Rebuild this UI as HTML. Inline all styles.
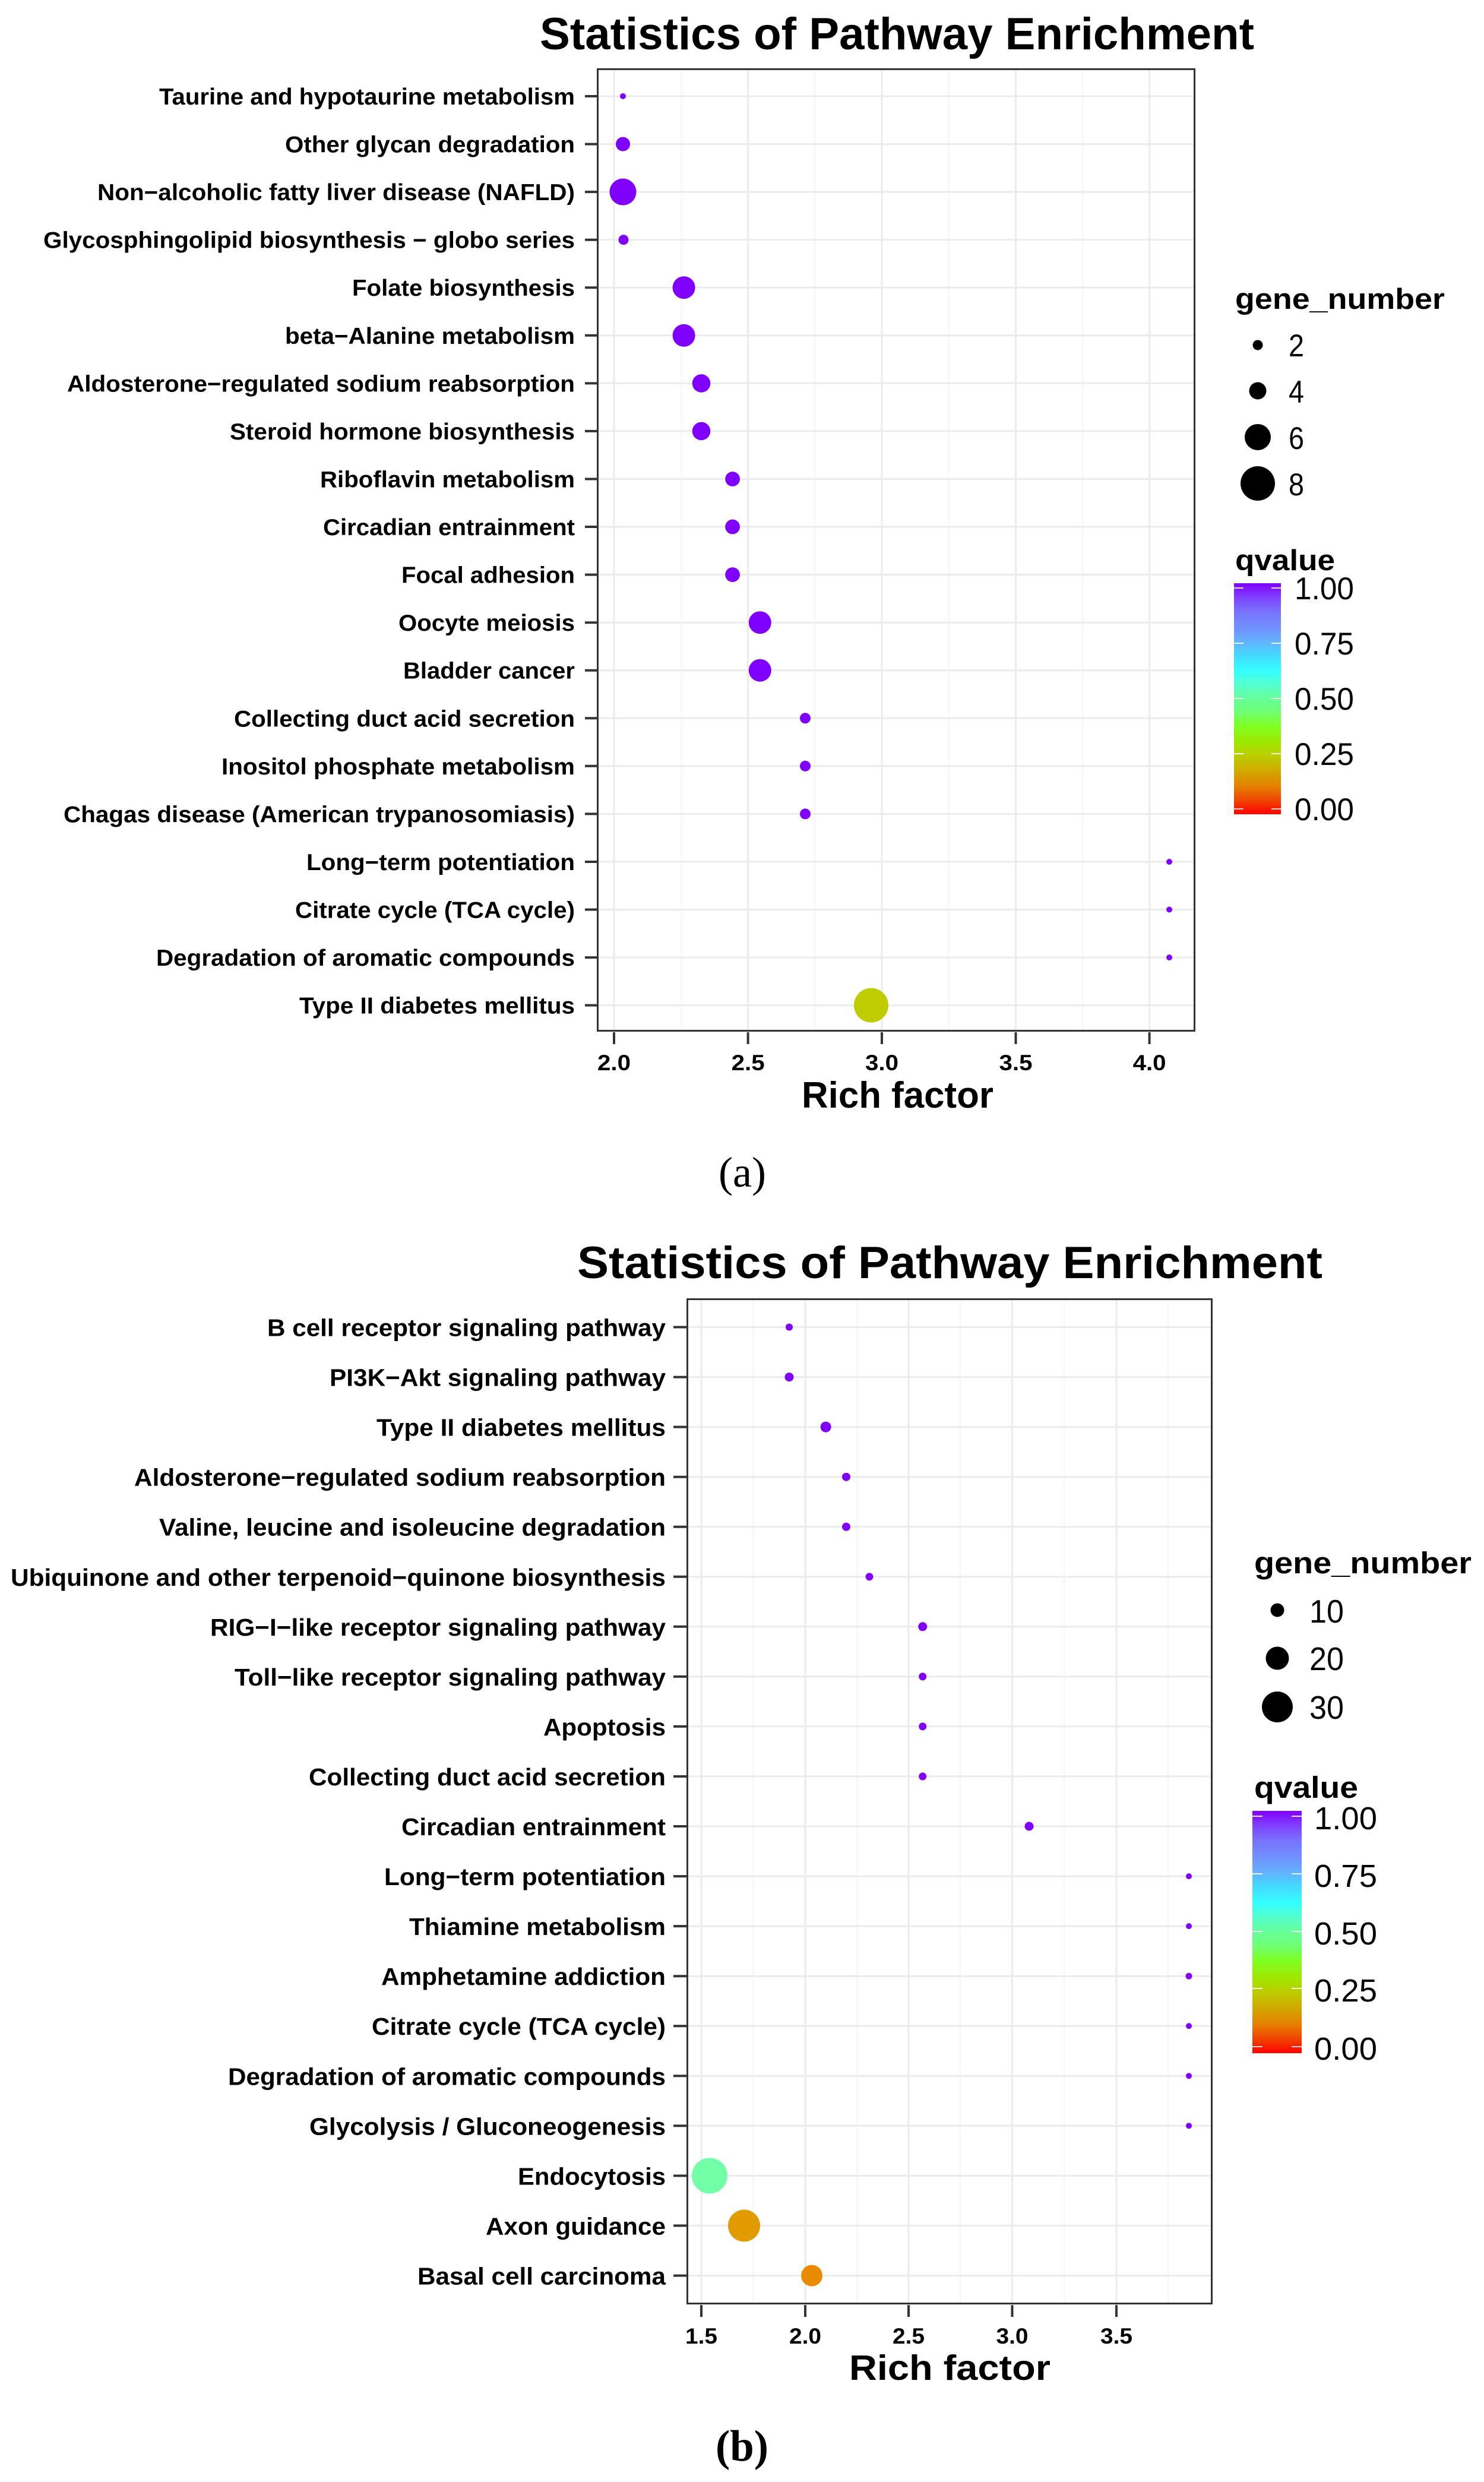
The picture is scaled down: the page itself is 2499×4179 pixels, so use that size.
<!DOCTYPE html>
<html><head><meta charset="utf-8"><style>
html,body{margin:0;padding:0;background:#fff;}
svg{display:block;}
text{font-family:"Liberation Sans",Arial,sans-serif;fill:#000;}
.lab{font-weight:bold;font-size:39px;text-anchor:end;}
.labb{font-weight:bold;font-size:41px;text-anchor:end;}
.tk{font-weight:bold;font-size:37px;text-anchor:middle;}
.ttl{font-weight:bold;font-size:76px;}
.ax{font-weight:bold;font-size:62px;}
.lt{font-weight:bold;font-size:49px;}
.ln{font-size:53px;}
</style></head><body>
<svg width="2499" height="4179" viewBox="0 0 2499 4179" xmlns="http://www.w3.org/2000/svg">
<defs>
<linearGradient id="cb" x1="0" y1="1" x2="0" y2="0">
<stop offset="0" stop-color="#ff0000"/>
<stop offset="0.06" stop-color="#f04400"/>
<stop offset="0.12" stop-color="#e58000"/>
<stop offset="0.19" stop-color="#d0aa00"/>
<stop offset="0.25" stop-color="#bccc00"/>
<stop offset="0.31" stop-color="#a0e600"/>
<stop offset="0.38" stop-color="#80ff20"/>
<stop offset="0.44" stop-color="#70ff70"/>
<stop offset="0.50" stop-color="#66ff99"/>
<stop offset="0.56" stop-color="#55ffcc"/>
<stop offset="0.62" stop-color="#33ffff"/>
<stop offset="0.69" stop-color="#44d8ff"/>
<stop offset="0.75" stop-color="#66b0ff"/>
<stop offset="0.81" stop-color="#7090ff"/>
<stop offset="0.88" stop-color="#7a70ff"/>
<stop offset="0.94" stop-color="#7f40ff"/>
<stop offset="1" stop-color="#8000ff"/>
</linearGradient>
</defs>
<rect width="2499" height="4179" fill="#fff"/>

<!-- ================= PANEL A ================= -->
<text class="ttl" x="909" y="83" textLength="1203" lengthAdjust="spacingAndGlyphs">Statistics of Pathway Enrichment</text>

<!-- grid a -->
<g stroke="#f5f5f5" stroke-width="2">
<line x1="1147.7" y1="118" x2="1147.7" y2="1735"/>
<line x1="1372.3" y1="118" x2="1372.3" y2="1735"/>
<line x1="1597.5" y1="118" x2="1597.5" y2="1735"/>
<line x1="1823" y1="118" x2="1823" y2="1735"/>
</g>
<g stroke="#ebebeb" stroke-width="3">
<line x1="1034" y1="118" x2="1034" y2="1735"/>
<line x1="1259.6" y1="118" x2="1259.6" y2="1735"/>
<line x1="1485" y1="118" x2="1485" y2="1735"/>
<line x1="1710.5" y1="118" x2="1710.5" y2="1735"/>
<line x1="1935.6" y1="118" x2="1935.6" y2="1735"/>
<line x1="1008" y1="162" x2="2011" y2="162"/>
<line x1="1008" y1="242.6" x2="2011" y2="242.6"/>
<line x1="1008" y1="323.1" x2="2011" y2="323.1"/>
<line x1="1008" y1="403.7" x2="2011" y2="403.7"/>
<line x1="1008" y1="484.2" x2="2011" y2="484.2"/>
<line x1="1008" y1="564.8" x2="2011" y2="564.8"/>
<line x1="1008" y1="645.4" x2="2011" y2="645.4"/>
<line x1="1008" y1="725.9" x2="2011" y2="725.9"/>
<line x1="1008" y1="806.5" x2="2011" y2="806.5"/>
<line x1="1008" y1="887" x2="2011" y2="887"/>
<line x1="1008" y1="967.6" x2="2011" y2="967.6"/>
<line x1="1008" y1="1048.2" x2="2011" y2="1048.2"/>
<line x1="1008" y1="1128.7" x2="2011" y2="1128.7"/>
<line x1="1008" y1="1209.3" x2="2011" y2="1209.3"/>
<line x1="1008" y1="1289.8" x2="2011" y2="1289.8"/>
<line x1="1008" y1="1370.4" x2="2011" y2="1370.4"/>
<line x1="1008" y1="1451" x2="2011" y2="1451"/>
<line x1="1008" y1="1531.5" x2="2011" y2="1531.5"/>
<line x1="1008" y1="1612.1" x2="2011" y2="1612.1"/>
<line x1="1008" y1="1692.6" x2="2011" y2="1692.6"/>
</g>

<!-- points a -->
<g fill="#7f00ff">
<circle cx="1049" cy="162" r="5"/>
<circle cx="1049" cy="242.6" r="12"/>
<circle cx="1049" cy="323.1" r="22.5"/>
<circle cx="1050" cy="403.7" r="8.5"/>
<circle cx="1151.6" cy="484.2" r="19"/>
<circle cx="1151.6" cy="564.8" r="19"/>
<circle cx="1181" cy="645.4" r="15.3"/>
<circle cx="1181" cy="725.9" r="15.3"/>
<circle cx="1233.6" cy="806.5" r="12.4"/>
<circle cx="1233.6" cy="887" r="12.4"/>
<circle cx="1233.6" cy="967.6" r="12.4"/>
<circle cx="1279.8" cy="1048.2" r="19"/>
<circle cx="1279.8" cy="1128.7" r="19"/>
<circle cx="1356" cy="1209.3" r="9"/>
<circle cx="1356" cy="1289.8" r="9"/>
<circle cx="1356" cy="1370.4" r="9"/>
<circle cx="1969" cy="1451" r="5"/>
<circle cx="1969" cy="1531.5" r="5"/>
<circle cx="1969" cy="1612.1" r="5"/>
</g>
<circle cx="1467" cy="1692.6" r="29" fill="#bfcc00"/>

<!-- box a -->
<rect x="1006.5" y="116.5" width="1005" height="1619" fill="none" stroke="#333" stroke-width="3"/>

<!-- y ticks a -->
<g stroke="#333" stroke-width="4">
<line x1="985" y1="162" x2="1005" y2="162"/>
<line x1="985" y1="242.6" x2="1005" y2="242.6"/>
<line x1="985" y1="323.1" x2="1005" y2="323.1"/>
<line x1="985" y1="403.7" x2="1005" y2="403.7"/>
<line x1="985" y1="484.2" x2="1005" y2="484.2"/>
<line x1="985" y1="564.8" x2="1005" y2="564.8"/>
<line x1="985" y1="645.4" x2="1005" y2="645.4"/>
<line x1="985" y1="725.9" x2="1005" y2="725.9"/>
<line x1="985" y1="806.5" x2="1005" y2="806.5"/>
<line x1="985" y1="887" x2="1005" y2="887"/>
<line x1="985" y1="967.6" x2="1005" y2="967.6"/>
<line x1="985" y1="1048.2" x2="1005" y2="1048.2"/>
<line x1="985" y1="1128.7" x2="1005" y2="1128.7"/>
<line x1="985" y1="1209.3" x2="1005" y2="1209.3"/>
<line x1="985" y1="1289.8" x2="1005" y2="1289.8"/>
<line x1="985" y1="1370.4" x2="1005" y2="1370.4"/>
<line x1="985" y1="1451" x2="1005" y2="1451"/>
<line x1="985" y1="1531.5" x2="1005" y2="1531.5"/>
<line x1="985" y1="1612.1" x2="1005" y2="1612.1"/>
<line x1="985" y1="1692.6" x2="1005" y2="1692.6"/>
<line x1="1034" y1="1738" x2="1034" y2="1758"/>
<line x1="1259.6" y1="1738" x2="1259.6" y2="1758"/>
<line x1="1485" y1="1738" x2="1485" y2="1758"/>
<line x1="1710.5" y1="1738" x2="1710.5" y2="1758"/>
<line x1="1935.6" y1="1738" x2="1935.6" y2="1758"/>
</g>

<!-- y labels a -->
<text class="lab" x="968" y="176" textLength="700" lengthAdjust="spacingAndGlyphs">Taurine and hypotaurine metabolism</text>
<text class="lab" x="968" y="256.6" textLength="488" lengthAdjust="spacingAndGlyphs">Other glycan degradation</text>
<text class="lab" x="968" y="337.1" textLength="804" lengthAdjust="spacingAndGlyphs">Non−alcoholic fatty liver disease (NAFLD)</text>
<text class="lab" x="968" y="417.7" textLength="895" lengthAdjust="spacingAndGlyphs">Glycosphingolipid biosynthesis − globo series</text>
<text class="lab" x="968" y="498.2" textLength="375" lengthAdjust="spacingAndGlyphs">Folate biosynthesis</text>
<text class="lab" x="968" y="578.8" textLength="488" lengthAdjust="spacingAndGlyphs">beta−Alanine metabolism</text>
<text class="lab" x="968" y="659.4" textLength="855" lengthAdjust="spacingAndGlyphs">Aldosterone−regulated sodium reabsorption</text>
<text class="lab" x="968" y="739.9" textLength="581" lengthAdjust="spacingAndGlyphs">Steroid hormone biosynthesis</text>
<text class="lab" x="968" y="820.5" textLength="429" lengthAdjust="spacingAndGlyphs">Riboflavin metabolism</text>
<text class="lab" x="968" y="901" textLength="424" lengthAdjust="spacingAndGlyphs">Circadian entrainment</text>
<text class="lab" x="968" y="981.6" textLength="292" lengthAdjust="spacingAndGlyphs">Focal adhesion</text>
<text class="lab" x="968" y="1062.2" textLength="297" lengthAdjust="spacingAndGlyphs">Oocyte meiosis</text>
<text class="lab" x="968" y="1142.7" textLength="289" lengthAdjust="spacingAndGlyphs">Bladder cancer</text>
<text class="lab" x="968" y="1223.3" textLength="574" lengthAdjust="spacingAndGlyphs">Collecting duct acid secretion</text>
<text class="lab" x="968" y="1303.8" textLength="595" lengthAdjust="spacingAndGlyphs">Inositol phosphate metabolism</text>
<text class="lab" x="968" y="1384.4" textLength="861" lengthAdjust="spacingAndGlyphs">Chagas disease (American trypanosomiasis)</text>
<text class="lab" x="968" y="1465" textLength="452" lengthAdjust="spacingAndGlyphs">Long−term potentiation</text>
<text class="lab" x="968" y="1545.5" textLength="471" lengthAdjust="spacingAndGlyphs">Citrate cycle (TCA cycle)</text>
<text class="lab" x="968" y="1626.1" textLength="705" lengthAdjust="spacingAndGlyphs">Degradation of aromatic compounds</text>
<text class="lab" x="968" y="1706.6" textLength="464" lengthAdjust="spacingAndGlyphs">Type II diabetes mellitus</text>

<!-- x tick labels a -->
<text class="tk" x="1034" y="1802" textLength="56" lengthAdjust="spacingAndGlyphs">2.0</text>
<text class="tk" x="1259.6" y="1802" textLength="56" lengthAdjust="spacingAndGlyphs">2.5</text>
<text class="tk" x="1485" y="1802" textLength="56" lengthAdjust="spacingAndGlyphs">3.0</text>
<text class="tk" x="1710.5" y="1802" textLength="56" lengthAdjust="spacingAndGlyphs">3.5</text>
<text class="tk" x="1935.6" y="1802" textLength="56" lengthAdjust="spacingAndGlyphs">4.0</text>
<text class="ax" x="1350" y="1865" textLength="323" lengthAdjust="spacingAndGlyphs">Rich factor</text>

<!-- legend a -->
<text class="lt" x="2080" y="520" textLength="353" lengthAdjust="spacingAndGlyphs">gene_number</text>
<g fill="#000">
<circle cx="2118" cy="581" r="8.5"/>
<circle cx="2118" cy="658" r="14.5"/>
<circle cx="2118" cy="736" r="22"/>
<circle cx="2118" cy="814" r="29"/>
</g>
<text class="ln" x="2170" y="600" textLength="26" lengthAdjust="spacingAndGlyphs">2</text>
<text class="ln" x="2170" y="678" textLength="26" lengthAdjust="spacingAndGlyphs">4</text>
<text class="ln" x="2170" y="756" textLength="26" lengthAdjust="spacingAndGlyphs">6</text>
<text class="ln" x="2170" y="834" textLength="26" lengthAdjust="spacingAndGlyphs">8</text>
<text class="lt" x="2080" y="960" textLength="168" lengthAdjust="spacingAndGlyphs">qvalue</text>
<rect x="2078" y="982" width="79" height="389" fill="url(#cb)"/>
<g stroke="#fff" stroke-width="2" opacity="0.85">
<line x1="2078" y1="990" x2="2094" y2="990"/><line x1="2141" y1="990" x2="2157" y2="990"/>
<line x1="2078" y1="1083" x2="2094" y2="1083"/><line x1="2141" y1="1083" x2="2157" y2="1083"/>
<line x1="2078" y1="1176" x2="2094" y2="1176"/><line x1="2141" y1="1176" x2="2157" y2="1176"/>
<line x1="2078" y1="1269" x2="2094" y2="1269"/><line x1="2141" y1="1269" x2="2157" y2="1269"/>
<line x1="2078" y1="1362" x2="2094" y2="1362"/><line x1="2141" y1="1362" x2="2157" y2="1362"/>
</g>
<text class="ln" x="2180" y="1009" textLength="100" lengthAdjust="spacingAndGlyphs">1.00</text>
<text class="ln" x="2180" y="1102" textLength="100" lengthAdjust="spacingAndGlyphs">0.75</text>
<text class="ln" x="2180" y="1195" textLength="100" lengthAdjust="spacingAndGlyphs">0.50</text>
<text class="ln" x="2180" y="1288" textLength="100" lengthAdjust="spacingAndGlyphs">0.25</text>
<text class="ln" x="2180" y="1381" textLength="100" lengthAdjust="spacingAndGlyphs">0.00</text>

<text x="1210" y="1998" style="font-family:'Liberation Serif',serif;font-size:72px;" textLength="80" lengthAdjust="spacingAndGlyphs">(a)</text>

<!-- ================= PANEL B ================= -->
<text class="ttl" x="972" y="2152" textLength="1255" lengthAdjust="spacingAndGlyphs">Statistics of Pathway Enrichment</text>

<g stroke="#f5f5f5" stroke-width="2">
<line x1="1268" y1="2189" x2="1268" y2="3878"/>
<line x1="1443" y1="2189" x2="1443" y2="3878"/>
<line x1="1617" y1="2189" x2="1617" y2="3878"/>
<line x1="1792" y1="2189" x2="1792" y2="3878"/>
<line x1="1967" y1="2189" x2="1967" y2="3878"/>
</g>
<g stroke="#ebebeb" stroke-width="3">
<line x1="1181" y1="2189" x2="1181" y2="3878"/>
<line x1="1356" y1="2189" x2="1356" y2="3878"/>
<line x1="1530" y1="2189" x2="1530" y2="3878"/>
<line x1="1704.5" y1="2189" x2="1704.5" y2="3878"/>
<line x1="1880" y1="2189" x2="1880" y2="3878"/>
<line x1="1159" y1="2234.5" x2="2040" y2="2234.5"/>
<line x1="1159" y1="2318.6" x2="2040" y2="2318.6"/>
<line x1="1159" y1="2402.6" x2="2040" y2="2402.6"/>
<line x1="1159" y1="2486.7" x2="2040" y2="2486.7"/>
<line x1="1159" y1="2570.7" x2="2040" y2="2570.7"/>
<line x1="1159" y1="2654.8" x2="2040" y2="2654.8"/>
<line x1="1159" y1="2738.8" x2="2040" y2="2738.8"/>
<line x1="1159" y1="2822.9" x2="2040" y2="2822.9"/>
<line x1="1159" y1="2906.9" x2="2040" y2="2906.9"/>
<line x1="1159" y1="2991" x2="2040" y2="2991"/>
<line x1="1159" y1="3075" x2="2040" y2="3075"/>
<line x1="1159" y1="3159.1" x2="2040" y2="3159.1"/>
<line x1="1159" y1="3243.1" x2="2040" y2="3243.1"/>
<line x1="1159" y1="3327.2" x2="2040" y2="3327.2"/>
<line x1="1159" y1="3411.2" x2="2040" y2="3411.2"/>
<line x1="1159" y1="3495.3" x2="2040" y2="3495.3"/>
<line x1="1159" y1="3579.3" x2="2040" y2="3579.3"/>
<line x1="1159" y1="3663.4" x2="2040" y2="3663.4"/>
<line x1="1159" y1="3747.4" x2="2040" y2="3747.4"/>
<line x1="1159" y1="3831.5" x2="2040" y2="3831.5"/>
</g>

<g fill="#7f00ff">
<circle cx="1329" cy="2234.5" r="6"/>
<circle cx="1329" cy="2318.6" r="7.5"/>
<circle cx="1390.6" cy="2402.6" r="9"/>
<circle cx="1425" cy="2486.7" r="7"/>
<circle cx="1425" cy="2570.7" r="7"/>
<circle cx="1464" cy="2654.8" r="6.5"/>
<circle cx="1553.7" cy="2738.8" r="7.5"/>
<circle cx="1553.7" cy="2822.9" r="6.5"/>
<circle cx="1553.7" cy="2906.9" r="6.5"/>
<circle cx="1553.7" cy="2991" r="6.5"/>
<circle cx="1733" cy="3075" r="7.5"/>
<circle cx="2002" cy="3159.1" r="5"/>
<circle cx="2002" cy="3243.1" r="5"/>
<circle cx="2002" cy="3327.2" r="5.5"/>
<circle cx="2002" cy="3411.2" r="5"/>
<circle cx="2002" cy="3495.3" r="5"/>
<circle cx="2002" cy="3579.3" r="5"/>
</g>
<circle cx="1195" cy="3663.4" r="30" fill="#73ffa8"/>
<circle cx="1253" cy="3747.4" r="27" fill="#e19b00"/>
<circle cx="1367" cy="3831.5" r="18" fill="#e88b00"/>

<rect x="1157.5" y="2187.5" width="883" height="1691" fill="none" stroke="#333" stroke-width="3"/>

<g stroke="#333" stroke-width="4">
<line x1="1134" y1="2234.5" x2="1156" y2="2234.5"/>
<line x1="1134" y1="2318.6" x2="1156" y2="2318.6"/>
<line x1="1134" y1="2402.6" x2="1156" y2="2402.6"/>
<line x1="1134" y1="2486.7" x2="1156" y2="2486.7"/>
<line x1="1134" y1="2570.7" x2="1156" y2="2570.7"/>
<line x1="1134" y1="2654.8" x2="1156" y2="2654.8"/>
<line x1="1134" y1="2738.8" x2="1156" y2="2738.8"/>
<line x1="1134" y1="2822.9" x2="1156" y2="2822.9"/>
<line x1="1134" y1="2906.9" x2="1156" y2="2906.9"/>
<line x1="1134" y1="2991" x2="1156" y2="2991"/>
<line x1="1134" y1="3075" x2="1156" y2="3075"/>
<line x1="1134" y1="3159.1" x2="1156" y2="3159.1"/>
<line x1="1134" y1="3243.1" x2="1156" y2="3243.1"/>
<line x1="1134" y1="3327.2" x2="1156" y2="3327.2"/>
<line x1="1134" y1="3411.2" x2="1156" y2="3411.2"/>
<line x1="1134" y1="3495.3" x2="1156" y2="3495.3"/>
<line x1="1134" y1="3579.3" x2="1156" y2="3579.3"/>
<line x1="1134" y1="3663.4" x2="1156" y2="3663.4"/>
<line x1="1134" y1="3747.4" x2="1156" y2="3747.4"/>
<line x1="1134" y1="3831.5" x2="1156" y2="3831.5"/>
<line x1="1181" y1="3881" x2="1181" y2="3901"/>
<line x1="1356" y1="3881" x2="1356" y2="3901"/>
<line x1="1530" y1="3881" x2="1530" y2="3901"/>
<line x1="1704.5" y1="3881" x2="1704.5" y2="3901"/>
<line x1="1880" y1="3881" x2="1880" y2="3901"/>
</g>

<text class="labb" x="1121" y="2249.5" textLength="671" lengthAdjust="spacingAndGlyphs">B cell receptor signaling pathway</text>
<text class="labb" x="1121" y="2333.6" textLength="566" lengthAdjust="spacingAndGlyphs">PI3K−Akt signaling pathway</text>
<text class="labb" x="1121" y="2417.6" textLength="487" lengthAdjust="spacingAndGlyphs">Type II diabetes mellitus</text>
<text class="labb" x="1121" y="2501.7" textLength="895" lengthAdjust="spacingAndGlyphs">Aldosterone−regulated sodium reabsorption</text>
<text class="labb" x="1121" y="2585.7" textLength="853" lengthAdjust="spacingAndGlyphs">Valine, leucine and isoleucine degradation</text>
<text class="labb" x="1121" y="2669.8" textLength="1103" lengthAdjust="spacingAndGlyphs">Ubiquinone and other terpenoid−quinone biosynthesis</text>
<text class="labb" x="1121" y="2753.8" textLength="767" lengthAdjust="spacingAndGlyphs">RIG−I−like receptor signaling pathway</text>
<text class="labb" x="1121" y="2837.9" textLength="726" lengthAdjust="spacingAndGlyphs">Toll−like receptor signaling pathway</text>
<text class="labb" x="1121" y="2921.9" textLength="206" lengthAdjust="spacingAndGlyphs">Apoptosis</text>
<text class="labb" x="1121" y="3006" textLength="601" lengthAdjust="spacingAndGlyphs">Collecting duct acid secretion</text>
<text class="labb" x="1121" y="3090" textLength="445" lengthAdjust="spacingAndGlyphs">Circadian entrainment</text>
<text class="labb" x="1121" y="3174.1" textLength="474" lengthAdjust="spacingAndGlyphs">Long−term potentiation</text>
<text class="labb" x="1121" y="3258.1" textLength="432" lengthAdjust="spacingAndGlyphs">Thiamine metabolism</text>
<text class="labb" x="1121" y="3342.2" textLength="479" lengthAdjust="spacingAndGlyphs">Amphetamine addiction</text>
<text class="labb" x="1121" y="3426.2" textLength="495" lengthAdjust="spacingAndGlyphs">Citrate cycle (TCA cycle)</text>
<text class="labb" x="1121" y="3510.3" textLength="737" lengthAdjust="spacingAndGlyphs">Degradation of aromatic compounds</text>
<text class="labb" x="1121" y="3594.3" textLength="600" lengthAdjust="spacingAndGlyphs">Glycolysis / Gluconeogenesis</text>
<text class="labb" x="1121" y="3678.4" textLength="249" lengthAdjust="spacingAndGlyphs">Endocytosis</text>
<text class="labb" x="1121" y="3762.4" textLength="303" lengthAdjust="spacingAndGlyphs">Axon guidance</text>
<text class="labb" x="1121" y="3846.5" textLength="418" lengthAdjust="spacingAndGlyphs">Basal cell carcinoma</text>

<text class="tk" x="1181" y="3946" textLength="54" lengthAdjust="spacingAndGlyphs">1.5</text>
<text class="tk" x="1356" y="3946" textLength="54" lengthAdjust="spacingAndGlyphs">2.0</text>
<text class="tk" x="1530" y="3946" textLength="54" lengthAdjust="spacingAndGlyphs">2.5</text>
<text class="tk" x="1704.5" y="3946" textLength="54" lengthAdjust="spacingAndGlyphs">3.0</text>
<text class="tk" x="1880" y="3946" textLength="54" lengthAdjust="spacingAndGlyphs">3.5</text>
<text class="ax" x="1430" y="4007" style="font-size:59px" textLength="339" lengthAdjust="spacingAndGlyphs">Rich factor</text>

<text class="lt" x="2112" y="2649" style="font-size:51px" textLength="366" lengthAdjust="spacingAndGlyphs">gene_number</text>
<g fill="#000">
<circle cx="2151" cy="2711" r="11.5"/>
<circle cx="2151" cy="2792" r="19.5"/>
<circle cx="2151" cy="2874" r="26"/>
</g>
<text class="ln" x="2205" y="2732" style="font-size:55px" textLength="58" lengthAdjust="spacingAndGlyphs">10</text>
<text class="ln" x="2205" y="2812" style="font-size:55px" textLength="58" lengthAdjust="spacingAndGlyphs">20</text>
<text class="ln" x="2205" y="2894" style="font-size:55px" textLength="58" lengthAdjust="spacingAndGlyphs">30</text>
<text class="lt" x="2112" y="3027" style="font-size:51px" textLength="175" lengthAdjust="spacingAndGlyphs">qvalue</text>
<rect x="2109" y="3049" width="83" height="408" fill="url(#cb)"/>
<g stroke="#fff" stroke-width="2" opacity="0.85">
<line x1="2109" y1="3058" x2="2126" y2="3058"/><line x1="2175" y1="3058" x2="2192" y2="3058"/>
<line x1="2109" y1="3155" x2="2126" y2="3155"/><line x1="2175" y1="3155" x2="2192" y2="3155"/>
<line x1="2109" y1="3252" x2="2126" y2="3252"/><line x1="2175" y1="3252" x2="2192" y2="3252"/>
<line x1="2109" y1="3348" x2="2126" y2="3348"/><line x1="2175" y1="3348" x2="2192" y2="3348"/>
<line x1="2109" y1="3446" x2="2126" y2="3446"/><line x1="2175" y1="3446" x2="2192" y2="3446"/>
</g>
<text class="ln" x="2213" y="3080" style="font-size:54px" textLength="106" lengthAdjust="spacingAndGlyphs">1.00</text>
<text class="ln" x="2213" y="3177" style="font-size:54px" textLength="106" lengthAdjust="spacingAndGlyphs">0.75</text>
<text class="ln" x="2213" y="3274" style="font-size:54px" textLength="106" lengthAdjust="spacingAndGlyphs">0.50</text>
<text class="ln" x="2213" y="3370" style="font-size:54px" textLength="106" lengthAdjust="spacingAndGlyphs">0.25</text>
<text class="ln" x="2213" y="3468" style="font-size:54px" textLength="106" lengthAdjust="spacingAndGlyphs">0.00</text>

<text x="1205" y="4143" style="font-family:'Liberation Serif',serif;font-size:74px;font-weight:bold;" textLength="89" lengthAdjust="spacingAndGlyphs">(b)</text>
</svg>
</body></html>
